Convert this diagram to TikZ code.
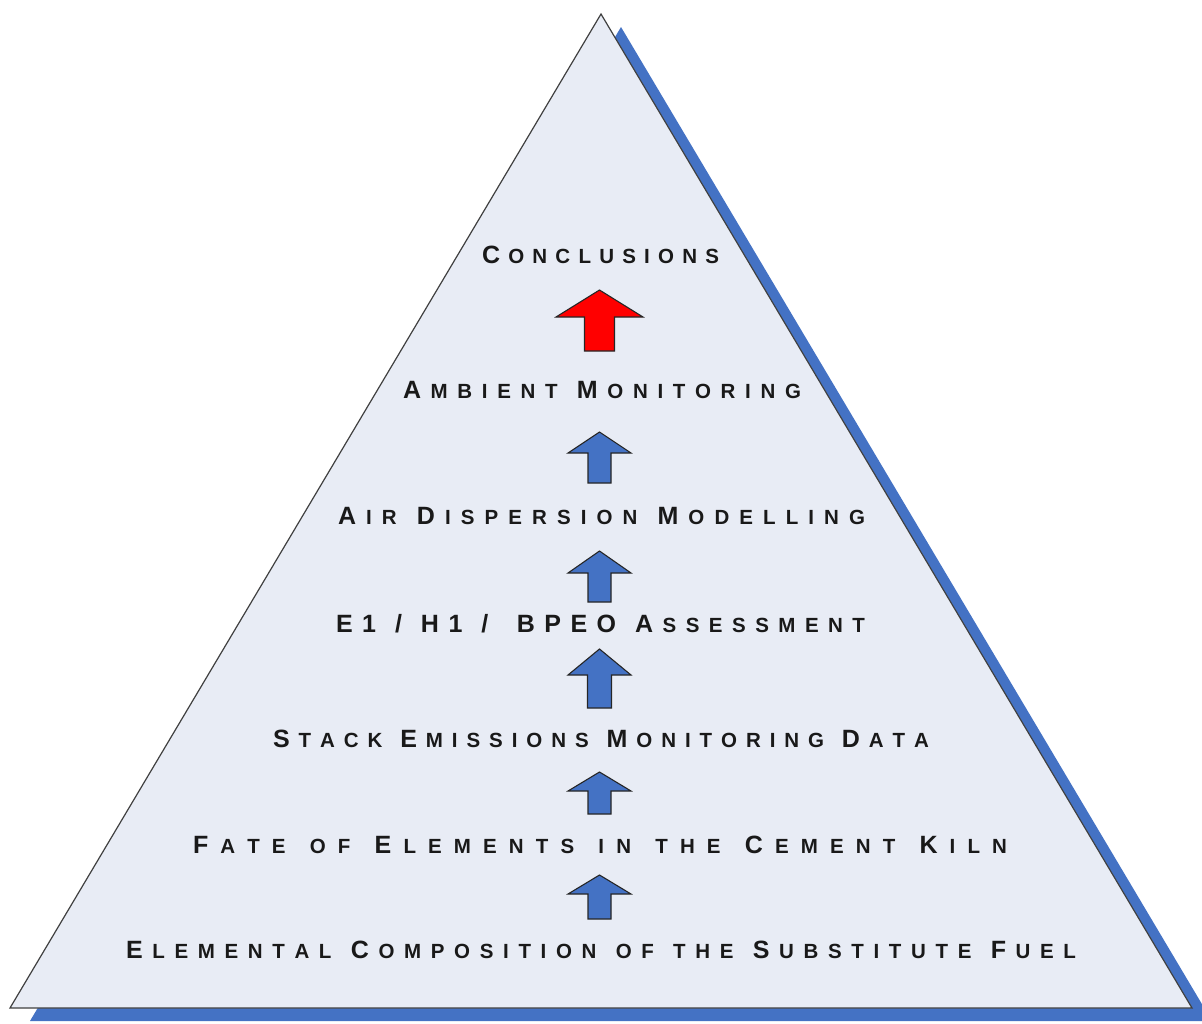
\documentclass[tikz,border=0pt]{standalone}
\usepackage{fontspec}
\newfontfamily\labelfont{Liberation Sans}
\definecolor{pyrfill}{HTML}{E8ECF5}
\definecolor{pyrblue}{HTML}{4472C4}
\definecolor{pyrred}{HTML}{FF0000}
% large capitals and smaller capitals (small-caps look)
\newcommand\pyrbig{\fontsize{25}{30}\selectfont}
\newcommand\pyrsmall{\fontsize{20.5}{25}\selectfont}

% Spaced small caps set to a given width: lower-case letters become small
% capitals, everything else stays large; every gap between characters is an
% equal stretchable glue, so a word space (or a tie, for an extra space)
% counts as a wider gap.
\ExplSyntaxOn
\bool_new:N \l__pyr_first_bool
\cs_new_protected:Npn \__pyr_spaced:n #1
  {
    \bool_set_true:N \l__pyr_first_bool
    \str_map_inline:nn {#1}
      {
        \bool_if:NF \l__pyr_first_bool { \hskip 0pt plus 1fil \relax }
        \bool_set_false:N \l__pyr_first_bool
        \str_if_eq:nnF {##1} {~}
          {
            \str_if_eq:nVF {##1} \c_tilde_str
              {
                \int_compare:nNnTF { `##1 } > { 96 }
                  { { \pyrsmall \str_uppercase:n {##1} } }
                  { { \pyrbig ##1 } }
              }
          }
      }
  }
\NewDocumentCommand \spacedcaps { m m }
  { \makebox[#1][s]{ \__pyr_spaced:n {#2} } }
\ExplSyntaxOff

% block arrow pointing up: fill, centre x, tip y, head base y, bottom y, head half width, shaft half width
\newcommand\blockarrow[7]{%
  \draw[blockup, fill=#1] (#2,#3) -- (#2+#6,#4) -- (#2+#7,#4) -- (#2+#7,#5)
    -- (#2-#7,#5) -- (#2-#7,#4) -- (#2-#6,#4) -- cycle;}
\tikzset{
  lbl/.style={font=\labelfont\bfseries, anchor=base, inner sep=0pt, text=black!90},
  blockup/.style={draw=black!85, line width=1.1pt, line join=miter},
}
\begin{document}
\begin{tikzpicture}[x=1pt, y=-1pt]
  \useasboundingbox (0,0) rectangle (1202,1023);
  \fill[white] (0,0) rectangle (1202,1023);
  % drop shadow of the pyramid
  \fill[pyrblue] (621,27) -- (1212,1021) -- (30,1021) -- cycle;
  % pyramid
  \draw[fill=pyrfill, draw=black!75, line width=1.2pt, line join=miter]
    (601,14) -- (1192,1008) -- (10,1008) -- cycle;

  % levels, from top to bottom
  \node[lbl] (l1) at (600.5,263) {\spacedcaps{237pt}{Conclusions}};
  \node[lbl] (l2) at (602,398) {\spacedcaps{398pt}{Ambient Monitoring}};
  \node[lbl] (l3) at (601.5,524) {\spacedcaps{527pt}{Air Dispersion Modelling}};
  \node[lbl] (l4) at (600.5,632) {\spacedcaps{529pt}{E1 / H1 / ~BPEO Assessment}};
  \node[lbl] (l5) at (601,747) {\spacedcaps{656pt}{Stack Emissions Monitoring Data}};
  \node[lbl] (l6) at (600,853) {\spacedcaps{814pt}{Fate of Elements in the Cement Kiln}};
  \node[lbl] (l7) at (601,958) {\spacedcaps{950pt}{Elemental Composition of the Substitute Fuel}};

  % arrows between levels
  \blockarrow{pyrred}{599.5}{290}{317}{351}{43.5}{15}
  \blockarrow{pyrblue}{599.5}{432}{453}{483}{31.5}{11.5}
  \blockarrow{pyrblue}{599.5}{551}{573}{602}{31.5}{11.5}
  \blockarrow{pyrblue}{599.5}{649}{675}{708}{31.5}{12}
  \blockarrow{pyrblue}{599.5}{772}{791}{814}{31.5}{11.5}
  \blockarrow{pyrblue}{599.5}{875}{894}{919}{31.5}{11.5}
\end{tikzpicture}
\end{document}
